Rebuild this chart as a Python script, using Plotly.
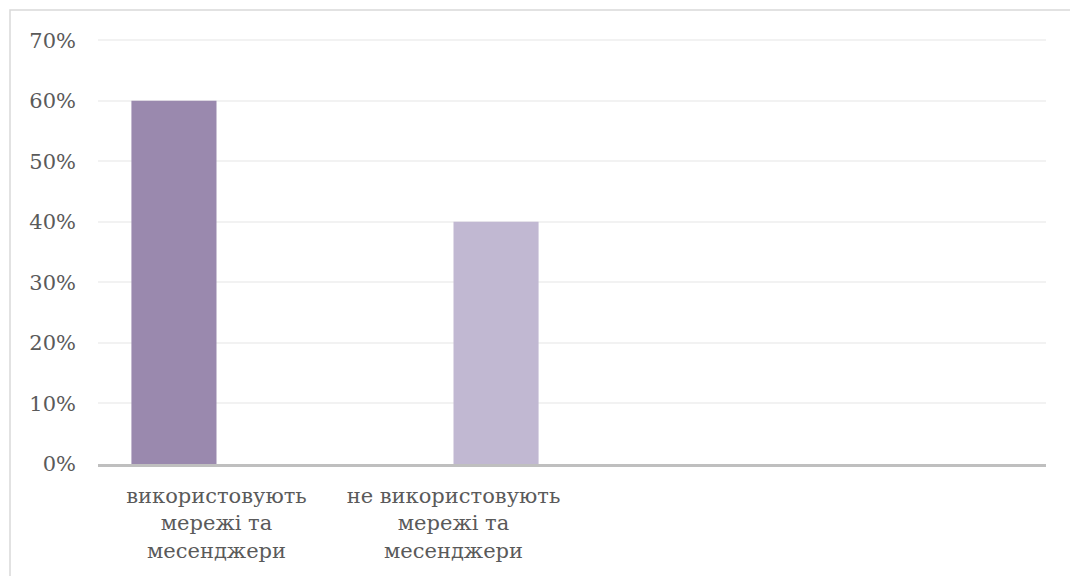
import plotly.graph_objects as go

# Category labels along the x axis (four slots, last two unlabeled)
categories = [
    "використовують<br>мережі та<br>месенджери",
    "не використовують<br>мережі та<br>месенджери",
    "",
    "",
]
# Share of respondents per group
users_value = [0.60]
non_users_value = [0.40]
y_ticks = [0, 0.1, 0.2, 0.3, 0.4, 0.5, 0.6, 0.7]
y_tick_labels = ["0%", "10%", "20%", "30%", "40%", "50%", "60%", "70%"]

W, H = 1070, 576
ml, mr, mt, mb = 98, 24, 39, 112
pw, ph = W - ml - mr, H - mt - mb

font = dict(family="DejaVu Serif", size=21, color="#5A5A5A")

# Clustered layout: two series slots per category, each slot 0.359 of a category
slot = 0.359

fig = go.Figure()
fig.add_trace(go.Bar(x=[0], y=users_value, width=slot, offset=-slot,
                     marker=dict(color="#9A89AE", line=dict(width=0)), hoverinfo="y"))
fig.add_trace(go.Bar(x=[1], y=non_users_value, width=slot, offset=0,
                     marker=dict(color="#C1B8D2", line=dict(width=0)), hoverinfo="y"))

fig.update_layout(
    width=W, height=H,
    margin=dict(l=ml, r=mr, t=mt, b=mb),
    paper_bgcolor="white", plot_bgcolor="white",
    barmode="overlay",
    showlegend=False,
    font=font,
    xaxis=dict(
        range=[-0.5, 3.5],
        tickvals=list(range(len(categories))),
        ticktext=categories,
        showgrid=False, zeroline=False,
        showline=True, linecolor="#BFBFBF", linewidth=2.5,
        ticks="outside", ticklen=11, tickcolor="rgba(0,0,0,0)",
        tickfont=font,
    ),
    yaxis=dict(
        range=[0, 0.702],
        tickvals=y_ticks, ticktext=y_tick_labels,
        showgrid=True, gridcolor="#F2F2F2", gridwidth=1.5,
        zeroline=False, showline=False,
        ticks="", ticklabelstandoff=21,
        tickfont=font,
    ),
)

# Outer chart frame
fig.add_shape(
    type="rect", xref="paper", yref="paper",
    x0=(10 - ml) / pw, x1=(W + 5 - ml) / pw,
    y0=-(H + 5 - mt - ph) / ph, y1=1 + (mt - 10) / ph,
    line=dict(color="#D9D9D9", width=1.5), fillcolor="rgba(0,0,0,0)", layer="below",
)

fig.write_html("out.html")
